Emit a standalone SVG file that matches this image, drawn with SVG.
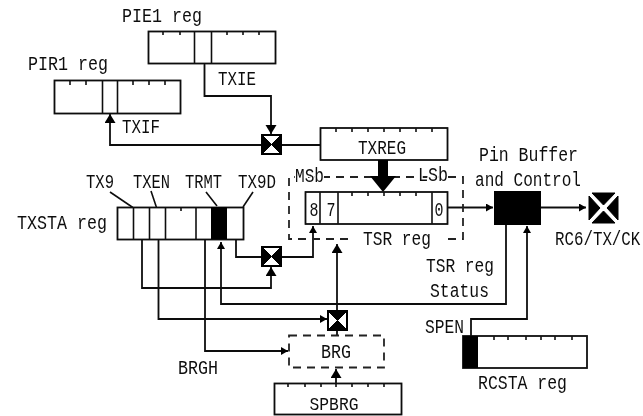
<svg xmlns="http://www.w3.org/2000/svg" width="643" height="416" viewBox="0 0 643 416">
<defs>
<filter id="soft" x="-2%" y="-2%" width="104%" height="104%"><feGaussianBlur stdDeviation="0.6"/></filter>
<marker id="a" markerUnits="userSpaceOnUse" markerWidth="12" markerHeight="12" refX="9" refY="5.500" orient="auto"><path d="M0 0L9 5.500L0 11Z" fill="#000"/></marker>
<marker id="s" markerUnits="userSpaceOnUse" markerWidth="8" markerHeight="8" refX="7" refY="4" orient="auto"><path d="M0 0L7 4L0 8Z" fill="#000"/></marker>
</defs>
<style>
.b{fill:#fff;stroke:#111;stroke-width:1.8}
.l{fill:none;stroke:#111;stroke-width:1.6}
.c{fill:none;stroke:#111;stroke-width:1.8}
.d{fill:none;stroke:#222;stroke-width:1.8;stroke-dasharray:8 6}
.k{fill:#000;stroke:#000;stroke-width:1}
text{font-family:"Liberation Mono","DejaVu Sans Mono",monospace;font-size:20px;fill:#111}
</style>
<rect width="643" height="416" fill="#fff"/>
<g filter="url(#soft)">
<g id="connectors">
<path class="c" d="M204.500 63V96H271V134" marker-end="url(#a)"/>
<path class="c" d="M261 145H110V114" marker-end="url(#a)"/>
<path class="c" d="M281 145H320"/>
<path class="c" d="M447 207.500H493" marker-end="url(#s)"/>
<path class="c" d="M541 207.500H586" marker-end="url(#s)"/>
<path class="c" d="M236 239V257H261"/>
<path class="c" d="M281 257H313V226" marker-end="url(#s)"/>
<path class="c" d="M142 239V288H271V267" marker-end="url(#a)"/>
<path class="c" d="M158.500 239V319H327" marker-end="url(#s)"/>
<path class="c" d="M205 239V351H288" marker-end="url(#s)"/>
<path class="c" d="M337 310V244" marker-end="url(#a)"/>
<path class="c" d="M337 330V335"/>
<path class="c" d="M506 225V304H221V242" marker-end="url(#s)"/>
<path class="c" d="M471 336V319H527V226" marker-end="url(#s)"/>
<path class="c" d="M336 383V369" marker-end="url(#a)"/>
<path class="d" d="M348 239H289V177H463V239H447"/>
<path class="l" d="M110 192L138 211M151 191L158 212M206 192L217 206M253 192L243 207"/>
</g>
<g id="pie1"><rect class="b" x="148.500" y="31.500" width="127" height="32"/><path class="l" d="M194.500 31V63M211.500 31V63M163 31V35M180 31V35M227 31V35M243 31V35M259 31V35"/><text x="122" y="22" textLength="80" lengthAdjust="spacingAndGlyphs">PIE1 reg</text></g>
<g id="pir1"><rect class="b" x="54.500" y="80.500" width="126" height="33"/><path class="l" d="M102.500 80V113M117.500 80V113M70 80V85M86 80V85M133 80V85M149 80V85M165 80V85"/><text x="28" y="70" textLength="80" lengthAdjust="spacingAndGlyphs">PIR1 reg</text></g>
<text x="218" y="85" textLength="38" lengthAdjust="spacingAndGlyphs">TXIE</text>
<text x="122" y="133" textLength="38" lengthAdjust="spacingAndGlyphs">TXIF</text>
<g id="txie-gate"><rect x="262" y="135" width="19" height="19" fill="#fff" stroke="#000" stroke-width="2"/><path class="k" d="M262 135L271.500 144.500L262 154ZM281 135L271.500 144.500L281 154Z"/></g>
<g id="txreg"><rect class="b" x="320.500" y="128" width="127" height="32"/><path class="l" d="M336 128V132M352 128V132M368 128V132M384 128V132M400 128V132M416 128V132M432 128V132"/><text x="382" y="154" text-anchor="middle" textLength="48" lengthAdjust="spacingAndGlyphs">TXREG</text></g>
<g id="tsr"><rect class="b" x="305.500" y="192" width="142" height="32"/><path class="l" d="M320 192V224M338 192V224M432 192V224M352 192V196M368 192V196M384 192V196M400 192V196M416 192V196"/><text x="309.500" y="216" textLength="9" lengthAdjust="spacingAndGlyphs">8</text><text x="326.500" y="216" textLength="9" lengthAdjust="spacingAndGlyphs">7</text><text x="434.500" y="216" textLength="9" lengthAdjust="spacingAndGlyphs">0</text><text x="363" y="245" textLength="68" lengthAdjust="spacingAndGlyphs">TSR reg</text></g>
<path d="M378 160H388V176H396L383 192L370 176H378Z" fill="#000"/>
<text x="295" y="182" textLength="29" lengthAdjust="spacingAndGlyphs" stroke="#fff" stroke-width="3" paint-order="stroke">MSb</text>
<text x="418" y="181" textLength="30" lengthAdjust="spacingAndGlyphs" stroke="#fff" stroke-width="3" paint-order="stroke">LSb</text>
<g id="buffer"><rect x="494" y="191" width="47" height="34" fill="#000"/><text x="479" y="161" textLength="99" lengthAdjust="spacingAndGlyphs">Pin Buffer</text><text x="475" y="186" textLength="106" lengthAdjust="spacingAndGlyphs">and Control</text></g>
<g id="pin"><path class="k" d="M592 193H615L603.500 205ZM592 223H615L603.500 211ZM589 196V220L600 208ZM618 196V220L607 208Z"/><text transform="translate(555 245) scale(.79 1)">RC6/TX/CK</text></g>
<g id="txsta"><rect class="b" x="117.500" y="207.500" width="126" height="32"/><rect x="211" y="207" width="16" height="32" fill="#000"/><path class="l" d="M133.500 207V239M149.500 207V239M165.500 207V239M196 207V239M181 207V211"/><text x="17" y="229" textLength="90" lengthAdjust="spacingAndGlyphs">TXSTA reg</text><text x="86" y="188" textLength="28" lengthAdjust="spacingAndGlyphs">TX9</text><text x="133" y="188" textLength="37" lengthAdjust="spacingAndGlyphs">TXEN</text><text x="185" y="188" textLength="37" lengthAdjust="spacingAndGlyphs">TRMT</text><text x="238" y="188" textLength="38" lengthAdjust="spacingAndGlyphs">TX9D</text></g>
<g id="tx9-gate"><rect x="262" y="247" width="19" height="19" fill="#fff" stroke="#000" stroke-width="2"/><path class="k" d="M262 247L271.500 256.500L262 266ZM281 247L271.500 256.500L281 266Z"/></g>
<g id="brg-gate"><rect x="328" y="311" width="19" height="19" fill="#fff" stroke="#000" stroke-width="2"/><path class="k" d="M328 311H347L337.500 320.500ZM328 330H347L337.500 320.500Z"/></g>
<g id="brg"><rect x="289" y="335.500" width="95" height="32" fill="#fff" stroke="#222" stroke-width="1.800" stroke-dasharray="8 6"/><text x="336" y="358" text-anchor="middle" textLength="30" lengthAdjust="spacingAndGlyphs">BRG</text></g>
<text x="178" y="374" textLength="40" lengthAdjust="spacingAndGlyphs">BRGH</text>
<g id="spbrg"><rect class="b" x="274.500" y="383.500" width="127" height="31"/><path class="l" d="M288 383V387M305 383V387M321 383V387M336 383V387M352 383V387M368 383V387M384 383V387"/><text x="334" y="410" text-anchor="middle" textLength="49" lengthAdjust="spacingAndGlyphs" style="font-size:19px">SPBRG</text></g>
<text x="426" y="272" textLength="68" lengthAdjust="spacingAndGlyphs">TSR reg</text>
<text x="430" y="297" textLength="59" lengthAdjust="spacingAndGlyphs">Status</text>
<g id="rcsta"><rect class="b" x="463" y="336" width="124" height="32"/><rect x="463" y="336" width="15" height="32" fill="#000"/><path class="l" d="M494 336V340M508 336V340M526 336V340M541 336V340M555 336V340M572 336V340"/><text x="425" y="333" textLength="39" lengthAdjust="spacingAndGlyphs">SPEN</text><text x="478" y="389" textLength="89" lengthAdjust="spacingAndGlyphs">RCSTA reg</text></g>
</g>
</svg>
